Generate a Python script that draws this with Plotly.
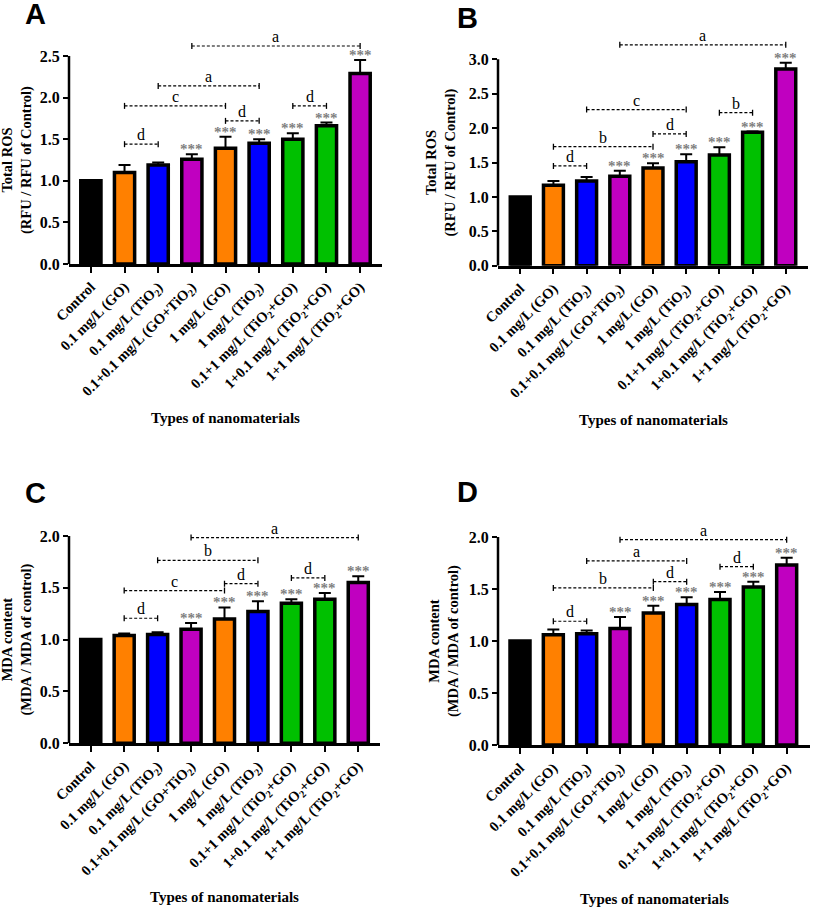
import plotly.graph_objects as go

# ======================================================
# Data
# ======================================================
categories = [
    "Control", "0.1 mg/L (GO)", "0.1 mg/L (TiO2)", "0.1+0.1 mg/L (GO+TiO2)",
    "1 mg/L (GO)", "1 mg/L (TiO2)", "0.1+1 mg/L (TiO2+GO)",
    "1+0.1 mg/L (TiO2+GO)", "1+1 mg/L (TiO2+GO)",
]
tick_labels = [c.replace("TiO2", "TiO<sub>2</sub>") for c in categories]
bar_colors = ["#000000", "#FF8000", "#0000FF", "#C000C0", "#FF8000",
              "#0000FF", "#00C000", "#00C000", "#C000C0"]

ros_a = [1.00, 1.10, 1.19, 1.26, 1.39, 1.45, 1.50, 1.66, 2.29]
ros_a_err = [0.00, 0.09, 0.03, 0.06, 0.14, 0.05, 0.07, 0.04, 0.16]
ros_b = [1.00, 1.17, 1.23, 1.30, 1.42, 1.51, 1.61, 1.94, 2.86]
ros_b_err = [0.00, 0.06, 0.06, 0.08, 0.07, 0.11, 0.11, 0.01, 0.09]
mda_c = [1.00, 1.04, 1.05, 1.10, 1.20, 1.27, 1.35, 1.39, 1.55]
mda_c_err = [0.00, 0.02, 0.02, 0.06, 0.11, 0.10, 0.04, 0.06, 0.06]
mda_d = [1.00, 1.06, 1.07, 1.12, 1.27, 1.35, 1.40, 1.52, 1.73]
mda_d_err = [0.00, 0.05, 0.03, 0.11, 0.07, 0.07, 0.07, 0.05, 0.07]

star_bars = [3, 4, 5, 6, 7, 8]

# (from bar, to bar, height, letter)
brackets_a = [(1, 2, 1.44, "d"), (1, 4, 1.90, "c"), (2, 5, 2.14, "a"),
              (4, 5, 1.72, "d"), (6, 7, 1.90, "d"), (3, 8, 2.62, "a")]
brackets_b = [(1, 2, 1.45, "d"), (1, 4, 1.73, "b"), (2, 5, 2.27, "c"),
              (4, 5, 1.915, "d"), (6, 7, 2.225, "b"), (3, 8, 3.21, "a")]
brackets_c = [(1, 2, 1.206, "d"), (1, 4, 1.473, "c"), (2, 5, 1.765, "b"),
              (4, 5, 1.54, "d"), (6, 7, 1.595, "d"), (3, 8, 1.984, "a")]
brackets_d = [(1, 2, 1.19, "d"), (1, 4, 1.51, "b"), (2, 5, 1.77, "a"),
              (4, 5, 1.57, "d"), (6, 7, 1.715, "d"), (3, 8, 1.974, "a")]

ros_title = "Total ROS<br>(RFU / RFU of Control)"
mda_title = "MDA content<br>(MDA / MDA of control)"

# ======================================================
# Panel layout
# ======================================================
W, H = 813, 909
SERIF = "Liberation Serif"

panels = [
    dict(n=1, letter="A", y=ros_a, err=ros_a_err, br=brackets_a, title=ros_title,
         top=2.5, rmax=2.8, xpx=(69, 382), ypx=(264, 31.0), xr=(-0.65, 8.65),
         tx=17, lx=35, ly=14),
    dict(n=2, letter="B", y=ros_b, err=ros_b_err, br=brackets_b, title=ros_title,
         top=3.0, rmax=3.4, xpx=(498, 808), ypx=(265.7, 31.8), xr=(-0.67, 8.67),
         tx=441, lx=467, ly=18),
    dict(n=3, letter="C", y=mda_c, err=mda_c_err, br=brackets_c, title=mda_title,
         top=2.0, rmax=2.2, xpx=(69, 380), ypx=(743.3, 515.2), xr=(-0.65, 8.65),
         tx=17, lx=35, ly=493),
    dict(n=4, letter="D", y=mda_d, err=mda_d_err, br=brackets_d, title=mda_title,
         top=2.0, rmax=2.2, xpx=(498, 810), ypx=(745, 516.2), xr=(-0.66, 8.7),
         tx=444, lx=467, ly=492),
]

fig = go.Figure()
shapes = []
annotations = []
layout = {}

for p in panels:
    n = p["n"]
    sx = "" if n == 1 else str(n)
    xa, ya = "x" + sx, "y" + sx

    fig.add_trace(
        go.Bar(
            x=categories,
            y=p["y"],
            width=0.6,
            marker=dict(color=bar_colors, line=dict(color="black", width=3.5)),
            error_y=dict(
                type="data",
                symmetric=False,
                array=p["err"],
                arrayminus=[0] * len(p["err"]),
                color="black",
                thickness=2,
                width=6,
            ),
            xaxis=xa,
            yaxis=ya,
            showlegend=False,
            hoverinfo="skip",
        )
    )

    layout["xaxis" + sx] = dict(
        domain=[p["xpx"][0] / W, p["xpx"][1] / W],
        anchor=ya,
        range=list(p["xr"]),
        type="category",
        tickvals=categories,
        ticktext=tick_labels,
        tickangle=-45,
        tickfont=dict(family=SERIF, size=14.5, color="black", weight="bold"),
        showline=True,
        linecolor="black",
        linewidth=2.5,
        ticks="outside",
        ticklen=6,
        tickwidth=2,
        tickcolor="black",
        showgrid=False,
        zeroline=False,
        automargin=False,
    )
    layout["yaxis" + sx] = dict(
        domain=[1 - p["ypx"][0] / H, 1 - p["ypx"][1] / H],
        anchor=xa,
        range=[0, p["rmax"]],
        dtick=0.5,
        tick0=0,
        tickformat=".1f",
        tickfont=dict(family=SERIF, size=16, color="black", weight="bold"),
        showline=False,
        ticks="outside",
        ticklen=5,
        tickwidth=2,
        tickcolor="black",
        showgrid=False,
        zeroline=False,
        automargin=False,
    )

    # y axis line only up to the last tick
    shapes.append(dict(
        type="line", xref=xa + " domain", yref=ya,
        x0=0, x1=0, y0=0, y1=p["top"],
        line=dict(color="black", width=2.5),
    ))

    # significance stars
    for i in star_bars:
        annotations.append(dict(
            x=categories[i], y=p["y"][i] + p["err"][i], xref=xa, yref=ya,
            text="***", showarrow=False, yanchor="bottom", yshift=-5,
            font=dict(family=SERIF, size=15, color="#7f7f7f", weight="bold"),
        ))

    # comparison brackets
    for i, j, yb, lab in p["br"]:
        shapes.append(dict(
            type="line", xref=xa, yref=ya, x0=i, x1=j, y0=yb, y1=yb,
            line=dict(color="black", width=1.2, dash="3px,2px"),
        ))
        for k in (i, j):
            shapes.append(dict(
                type="line", xref=xa, yref=ya, x0=k, x1=k,
                ysizemode="pixel", yanchor=yb, y0=-3, y1=3,
                line=dict(color="black", width=1.3),
            ))
        annotations.append(dict(
            x=(i + j) / 2, y=yb, xref=xa, yref=ya, text=lab,
            showarrow=False, yanchor="bottom", yshift=-1,
            font=dict(family=SERIF, size=16, color="black"),
        ))

    # axis titles
    annotations.append(dict(
        x=p["tx"] / W, xref="paper", y=p["top"] / 2 / p["rmax"], yref=ya + " domain",
        text=p["title"], textangle=-90, showarrow=False,
        xanchor="center", yanchor="middle",
        font=dict(family=SERIF, size=14.5, color="black", weight="bold"),
    ))
    annotations.append(dict(
        x=0.5, xref=xa + " domain", y=0, yref=ya + " domain", yshift=-154,
        text="Types of nanomaterials", showarrow=False,
        xanchor="center", yanchor="middle",
        font=dict(family=SERIF, size=15, color="black", weight="bold"),
    ))

    # panel letter
    annotations.append(dict(
        x=p["lx"] / W, y=1 - p["ly"] / H, xref="paper", yref="paper",
        text=p["letter"], showarrow=False, xanchor="center", yanchor="middle",
        borderpad=0,
        font=dict(family="Liberation Sans", size=29, color="black", weight="bold"),
    ))

fig.update_layout(
    width=W,
    height=H,
    margin=dict(l=0, r=0, t=0, b=0, autoexpand=False),
    paper_bgcolor="white",
    plot_bgcolor="white",
    shapes=shapes,
    annotations=annotations,
    **layout,
)

fig.write_html(
    "out.html",
    config={"displayModeBar": False},
    post_script=["document.body.style.margin = '0';"],
)
